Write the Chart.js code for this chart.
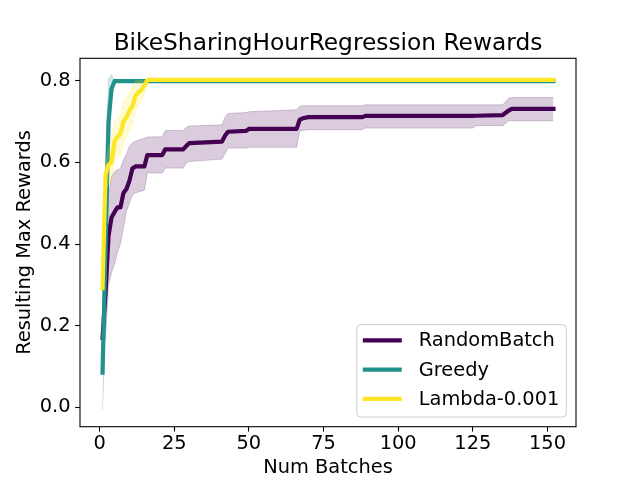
<!DOCTYPE html>
<html lang="en">
<head>
<meta charset="UTF-8">
<title>BikeSharingHourRegression Rewards</title>
<script src="https://cdn.jsdelivr.net/npm/chart.js@4/dist/chart.umd.min.js"></script>
<style>
  body { margin: 0; background: #fff; }
  #wrap { width: 640px; height: 480px; }
</style>
</head>
<body>
<div id="wrap"><canvas id="rewards" width="640" height="480"></canvas></div>
<script>
// values (x = batch index where the curve changes)
const titleText = 'BikeSharingHourRegression Rewards';
const xTicks = [0, 25, 50, 75, 100, 125, 150];
const yTicks = [0.0, 0.2, 0.4, 0.6, 0.8];

const ranX    = [1, 2, 3, 4, 5, 6, 7, 8, 9, 10, 11, 12, 15, 16, 21, 22, 28, 29, 30, 41, 42, 43, 49, 50, 66, 67, 68, 70, 88, 89, 125, 126, 135, 137, 138, 152];
const ranMean = [0.17, 0.28, 0.42, 0.465, 0.478, 0.49, 0.49, 0.525, 0.535, 0.555, 0.585, 0.59, 0.59, 0.618, 0.618, 0.632, 0.632, 0.64, 0.647, 0.651, 0.665, 0.675, 0.677, 0.682, 0.682, 0.704, 0.708, 0.711, 0.711, 0.714, 0.714, 0.7142, 0.716, 0.727, 0.731, 0.731];
const ranHi   = [0.185, 0.40, 0.52, 0.565, 0.577, 0.582, 0.585, 0.606, 0.62, 0.639, 0.648, 0.652, 0.659, 0.662, 0.663, 0.678, 0.678, 0.686, 0.689, 0.692, 0.71, 0.72, 0.722, 0.724, 0.729, 0.737, 0.739, 0.739, 0.739, 0.741, 0.741, 0.741, 0.741, 0.757, 0.759, 0.759];
const ranLo   = [0.155, 0.17, 0.30, 0.33, 0.35, 0.38, 0.40, 0.44, 0.48, 0.50, 0.52, 0.525, 0.532, 0.574, 0.574, 0.586, 0.586, 0.598, 0.602, 0.608, 0.622, 0.635, 0.635, 0.637, 0.637, 0.676, 0.678, 0.68, 0.68, 0.684, 0.684, 0.69, 0.69, 0.702, 0.702, 0.702];

const grX    = [1, 2, 3, 4, 5, 152];
const grMean = [0.085, 0.40, 0.70, 0.78, 0.799, 0.799];
const grHi   = [0.177, 0.60, 0.805, 0.815, 0.799, 0.799];
const grLo   = [-0.007, 0.20, 0.595, 0.745, 0.799, 0.799];

const lamX    = [1, 2, 3, 4, 5, 6, 7, 8, 9, 10, 11, 12, 13, 14, 15, 16, 152];
const lamMean = [0.292, 0.57, 0.594, 0.60, 0.652, 0.663, 0.67, 0.70, 0.71, 0.727, 0.738, 0.762, 0.772, 0.777, 0.788, 0.802, 0.802];
const lamHi   = [0.30, 0.60, 0.635, 0.66, 0.70, 0.71, 0.72, 0.75, 0.76, 0.77, 0.78, 0.80, 0.80, 0.80, 0.80, 0.802, 0.802];
const lamLo   = [0.285, 0.53, 0.55, 0.55, 0.605, 0.615, 0.62, 0.65, 0.66, 0.68, 0.695, 0.72, 0.74, 0.75, 0.77, 0.802, 0.802];

const FONT = 'DejaVu Sans';

function pts(xs, ys) { return xs.map((x, i) => ({ x: x, y: ys[i] })); }

function meanLine(label, xs, ys, color, order) {
    return { label: label, data: pts(xs, ys), borderColor: color, borderWidth: 4.2,
             borderCapStyle: 'square', borderJoinStyle: 'round', pointRadius: 0,
             fill: false, order: order, inLegend: true };
}
function bandEdge(xs, ys, rgb, order, fillTo) {
    return { data: pts(xs, ys), borderColor: 'rgba(' + rgb + ',0.2)', borderWidth: 1,
             backgroundColor: 'rgba(' + rgb + ',0.2)', pointRadius: 0, order: order,
             fill: fillTo === undefined ? false : fillTo };
}

// frame, title and legend drawn like matplotlib
const decor = {
    id: 'decor',
    afterDraw(chart) {
        const ctx = chart.ctx, a = chart.chartArea;
        ctx.save();
        ctx.strokeStyle = '#000';
        ctx.lineWidth = 1.1;
        ctx.strokeRect(a.left, a.top, a.right - a.left, a.bottom - a.top);

        ctx.fillStyle = '#000';
        ctx.font = '23.3px "' + FONT + '"';
        ctx.textAlign = 'center';
        ctx.textBaseline = 'alphabetic';
        ctx.fillText(titleText, (a.left + a.right) / 2, 50);

        const items = chart.data.datasets.filter(d => d.inLegend);
        const w = 209.5, h = 92.3;
        const bx = a.right - 9.7 - w, by = a.bottom - 9.7 - h;
        ctx.beginPath();
        ctx.roundRect(bx, by, w, h, 4);
        ctx.fillStyle = 'rgba(255,255,255,0.8)';
        ctx.fill();
        ctx.strokeStyle = '#cccccc';
        ctx.lineWidth = 1;
        ctx.stroke();
        ctx.font = '19.4px "' + FONT + '"';
        ctx.textAlign = 'left';
        ctx.textBaseline = 'middle';
        items.forEach((d, i) => {
            const cy = by + 15.7 + i * 29.2;
            ctx.strokeStyle = d.borderColor;
            ctx.lineWidth = 4.2;
            ctx.beginPath();
            ctx.moveTo(bx + 6, cy);
            ctx.lineTo(bx + 45, cy);
            ctx.stroke();
            ctx.fillStyle = '#000';
            ctx.fillText(d.label, bx + 62, cy + 1);
        });
        ctx.restore();
    }
};

new Chart(document.getElementById('rewards'), {
    type: 'line',
    data: {
        datasets: [
            meanLine('RandomBatch', ranX, ranMean, '#440154', 4),
            meanLine('Greedy', grX, grMean, '#21918c', 2),
            meanLine('Lambda-0.001', lamX, lamMean, '#fde725', 0),
            bandEdge(ranX, ranHi, '68,1,84', 5, 4),
            bandEdge(ranX, ranLo, '68,1,84', 5),
            bandEdge(grX, grHi, '33,145,140', 3, 6),
            bandEdge(grX, grLo, '33,145,140', 3),
            bandEdge(lamX, lamHi, '253,231,37', 1, 8),
            bandEdge(lamX, lamLo, '253,231,37', 1)
        ]
    },
    options: {
        responsive: false,
        animation: false,
        events: [],
        layout: { padding: { top: 58.3, right: 64, left: 0, bottom: 0 } },
        plugins: { legend: { display: false }, tooltip: { enabled: false }, title: { display: false } },
        scales: {
            x: {
                type: 'linear', min: -6.55, max: 159.55,
                afterFit: s => { s.height = 53.3; },
                afterBuildTicks: s => { s.ticks = xTicks.map(v => ({ value: v })); },
                border: { display: false },
                grid: { drawOnChartArea: false, drawTicks: true, tickLength: 4.9, tickWidth: 1.1, tickColor: '#000' },
                ticks: { color: '#000', padding: 1, maxRotation: 0, autoSkip: false,
                         font: { family: FONT, size: 19.4 }, callback: v => String(v) },
                title: { display: true, text: 'Num Batches', color: '#000', padding: { top: 0, bottom: 0 },
                         font: { family: FONT, size: 19.4 } }
            },
            y: {
                type: 'linear', min: -0.0476, max: 0.855,
                afterFit: s => { s.width = 80; },
                afterBuildTicks: s => { s.ticks = yTicks.map(v => ({ value: v })); },
                border: { display: false },
                grid: { drawOnChartArea: false, drawTicks: true, tickLength: 4.9, tickWidth: 1.1, tickColor: '#000' },
                ticks: { color: '#000', padding: 4.5, autoSkip: false,
                         font: { family: FONT, size: 19.4 }, callback: v => v.toFixed(1) },
                title: { display: true, text: 'Resulting Max Rewards', color: '#000', padding: { top: 13, bottom: 0 },
                         font: { family: FONT, size: 19.4 } }
            }
        }
    },
    plugins: [decor]
});
</script>
</body>
</html>
